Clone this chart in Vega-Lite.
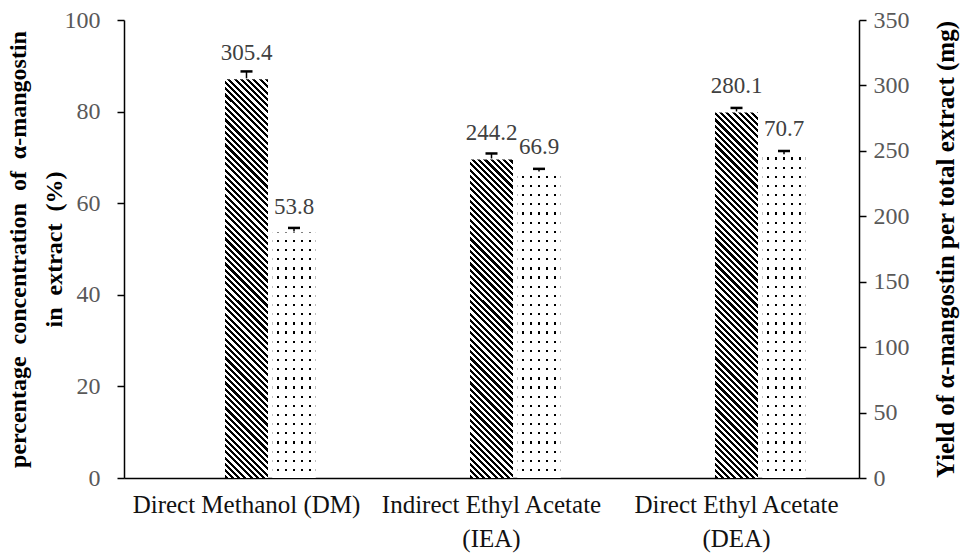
{
"$schema": "https://vega.github.io/schema/vega-lite/v6.json",
"width": 735, "height": 458,
"autosize": "none",
"padding": {"left": 124, "top": 20, "right": 109, "bottom": 76},
"background": "white",
"config": {"view": {"stroke": null}, "font": "Liberation Serif"},
"data": {"values": [
 {"method": "Direct Methanol (DM)", "series": "yield", "value": 305.4, "upper": 310.7},
 {"method": "Direct Methanol (DM)", "series": "pct", "value": 53.8, "upper": 54.6},
 {"method": "Indirect Ethyl Acetate (IEA)", "series": "yield", "value": 244.2, "upper": 248},
 {"method": "Indirect Ethyl Acetate (IEA)", "series": "pct", "value": 66.9, "upper": 67.5},
 {"method": "Direct Ethyl Acetate (DEA)", "series": "yield", "value": 280.1, "upper": 282.8},
 {"method": "Direct Ethyl Acetate (DEA)", "series": "pct", "value": 70.7, "upper": 71.4}
]},
"encoding": {
 "x": {"field": "method", "type": "nominal", "sort": ["Direct Methanol (DM)", "Indirect Ethyl Acetate (IEA)", "Direct Ethyl Acetate (DEA)"],
  "scale": {"paddingInner": 0, "paddingOuter": 0},
  "axis": {"title": null, "domain": true, "domainColor": "#000", "domainWidth": 1.5, "ticks": false, "tickSize": 0, "labelAngle": 0, "labelFont": "Liberation Serif", "labelFontSize": 25, "labelColor": "#111", "labelPadding": 14, "labelLineHeight": 34, "labelBaseline": "top", "labelLimit": 400, "labelOverlap": false,
   "labelExpr": "datum.value == 'Indirect Ethyl Acetate (IEA)' ? ['Indirect Ethyl Acetate', '(IEA)'] : datum.value == 'Direct Ethyl Acetate (DEA)' ? ['Direct Ethyl Acetate', '(DEA)'] : datum.value"}}
},
"layer": [
 {
  "transform": [{"filter": "datum.series == 'pct'"}],
  "encoding": {"xOffset": {"field": "series", "scale": {"domain": ["a", "b", "yield", "pct", "c"], "paddingInner": 0.0947, "paddingOuter": 0.126}}},
  "layer": [
   {"mark": {"type": "bar", "fill": {"gradient": "linear", "x1": 0, "y1": 0, "x2": 0, "y2": 1, "stops": [
{"offset":0,"color":"#000"},{"offset":0.005,"color":"#000"},{"offset":0.005,"color":"#fff"},{"offset":0.02,"color":"#fff"},{"offset":0.02,"color":"#000"},{"offset":0.025,"color":"#000"},{"offset":0.025,"color":"#fff"},{"offset":0.04,"color":"#fff"},{"offset":0.04,"color":"#000"},{"offset":0.045,"color":"#000"},{"offset":0.045,"color":"#fff"},{"offset":0.06,"color":"#fff"},{"offset":0.06,"color":"#000"},{"offset":0.065,"color":"#000"},{"offset":0.065,"color":"#fff"},{"offset":0.08,"color":"#fff"},{"offset":0.08,"color":"#000"},{"offset":0.085,"color":"#000"},{"offset":0.085,"color":"#fff"},{"offset":0.1,"color":"#fff"},
{"offset":0.1,"color":"#000"},{"offset":0.105,"color":"#000"},{"offset":0.105,"color":"#fff"},{"offset":0.12,"color":"#fff"},{"offset":0.12,"color":"#000"},{"offset":0.125,"color":"#000"},{"offset":0.125,"color":"#fff"},{"offset":0.14,"color":"#fff"},{"offset":0.14,"color":"#000"},{"offset":0.145,"color":"#000"},{"offset":0.145,"color":"#fff"},{"offset":0.16,"color":"#fff"},{"offset":0.16,"color":"#000"},{"offset":0.165,"color":"#000"},{"offset":0.165,"color":"#fff"},{"offset":0.18,"color":"#fff"},{"offset":0.18,"color":"#000"},{"offset":0.185,"color":"#000"},{"offset":0.185,"color":"#fff"},{"offset":0.2,"color":"#fff"},
{"offset":0.2,"color":"#000"},{"offset":0.205,"color":"#000"},{"offset":0.205,"color":"#fff"},{"offset":0.22,"color":"#fff"},{"offset":0.22,"color":"#000"},{"offset":0.225,"color":"#000"},{"offset":0.225,"color":"#fff"},{"offset":0.24,"color":"#fff"},{"offset":0.24,"color":"#000"},{"offset":0.245,"color":"#000"},{"offset":0.245,"color":"#fff"},{"offset":0.26,"color":"#fff"},{"offset":0.26,"color":"#000"},{"offset":0.265,"color":"#000"},{"offset":0.265,"color":"#fff"},{"offset":0.28,"color":"#fff"},{"offset":0.28,"color":"#000"},{"offset":0.285,"color":"#000"},{"offset":0.285,"color":"#fff"},{"offset":0.3,"color":"#fff"},
{"offset":0.3,"color":"#000"},{"offset":0.305,"color":"#000"},{"offset":0.305,"color":"#fff"},{"offset":0.32,"color":"#fff"},{"offset":0.32,"color":"#000"},{"offset":0.325,"color":"#000"},{"offset":0.325,"color":"#fff"},{"offset":0.34,"color":"#fff"},{"offset":0.34,"color":"#000"},{"offset":0.345,"color":"#000"},{"offset":0.345,"color":"#fff"},{"offset":0.36,"color":"#fff"},{"offset":0.36,"color":"#000"},{"offset":0.365,"color":"#000"},{"offset":0.365,"color":"#fff"},{"offset":0.38,"color":"#fff"},{"offset":0.38,"color":"#000"},{"offset":0.385,"color":"#000"},{"offset":0.385,"color":"#fff"},{"offset":0.4,"color":"#fff"},
{"offset":0.4,"color":"#000"},{"offset":0.405,"color":"#000"},{"offset":0.405,"color":"#fff"},{"offset":0.42,"color":"#fff"},{"offset":0.42,"color":"#000"},{"offset":0.425,"color":"#000"},{"offset":0.425,"color":"#fff"},{"offset":0.44,"color":"#fff"},{"offset":0.44,"color":"#000"},{"offset":0.445,"color":"#000"},{"offset":0.445,"color":"#fff"},{"offset":0.46,"color":"#fff"},{"offset":0.46,"color":"#000"},{"offset":0.465,"color":"#000"},{"offset":0.465,"color":"#fff"},{"offset":0.48,"color":"#fff"},{"offset":0.48,"color":"#000"},{"offset":0.485,"color":"#000"},{"offset":0.485,"color":"#fff"},{"offset":0.5,"color":"#fff"},
{"offset":0.5,"color":"#000"},{"offset":0.505,"color":"#000"},{"offset":0.505,"color":"#fff"},{"offset":0.52,"color":"#fff"},{"offset":0.52,"color":"#000"},{"offset":0.525,"color":"#000"},{"offset":0.525,"color":"#fff"},{"offset":0.54,"color":"#fff"},{"offset":0.54,"color":"#000"},{"offset":0.545,"color":"#000"},{"offset":0.545,"color":"#fff"},{"offset":0.56,"color":"#fff"},{"offset":0.56,"color":"#000"},{"offset":0.565,"color":"#000"},{"offset":0.565,"color":"#fff"},{"offset":0.58,"color":"#fff"},{"offset":0.58,"color":"#000"},{"offset":0.585,"color":"#000"},{"offset":0.585,"color":"#fff"},{"offset":0.6,"color":"#fff"},
{"offset":0.6,"color":"#000"},{"offset":0.605,"color":"#000"},{"offset":0.605,"color":"#fff"},{"offset":0.62,"color":"#fff"},{"offset":0.62,"color":"#000"},{"offset":0.625,"color":"#000"},{"offset":0.625,"color":"#fff"},{"offset":0.64,"color":"#fff"},{"offset":0.64,"color":"#000"},{"offset":0.645,"color":"#000"},{"offset":0.645,"color":"#fff"},{"offset":0.66,"color":"#fff"},{"offset":0.66,"color":"#000"},{"offset":0.665,"color":"#000"},{"offset":0.665,"color":"#fff"},{"offset":0.68,"color":"#fff"},{"offset":0.68,"color":"#000"},{"offset":0.685,"color":"#000"},{"offset":0.685,"color":"#fff"},{"offset":0.7,"color":"#fff"},
{"offset":0.7,"color":"#000"},{"offset":0.705,"color":"#000"},{"offset":0.705,"color":"#fff"},{"offset":0.72,"color":"#fff"},{"offset":0.72,"color":"#000"},{"offset":0.725,"color":"#000"},{"offset":0.725,"color":"#fff"},{"offset":0.74,"color":"#fff"},{"offset":0.74,"color":"#000"},{"offset":0.745,"color":"#000"},{"offset":0.745,"color":"#fff"},{"offset":0.76,"color":"#fff"},{"offset":0.76,"color":"#000"},{"offset":0.765,"color":"#000"},{"offset":0.765,"color":"#fff"},{"offset":0.78,"color":"#fff"},{"offset":0.78,"color":"#000"},{"offset":0.785,"color":"#000"},{"offset":0.785,"color":"#fff"},{"offset":0.8,"color":"#fff"},
{"offset":0.8,"color":"#000"},{"offset":0.805,"color":"#000"},{"offset":0.805,"color":"#fff"},{"offset":0.82,"color":"#fff"},{"offset":0.82,"color":"#000"},{"offset":0.825,"color":"#000"},{"offset":0.825,"color":"#fff"},{"offset":0.84,"color":"#fff"},{"offset":0.84,"color":"#000"},{"offset":0.845,"color":"#000"},{"offset":0.845,"color":"#fff"},{"offset":0.86,"color":"#fff"},{"offset":0.86,"color":"#000"},{"offset":0.865,"color":"#000"},{"offset":0.865,"color":"#fff"},{"offset":0.88,"color":"#fff"},{"offset":0.88,"color":"#000"},{"offset":0.885,"color":"#000"},{"offset":0.885,"color":"#fff"},{"offset":0.9,"color":"#fff"},
{"offset":0.9,"color":"#000"},{"offset":0.905,"color":"#000"},{"offset":0.905,"color":"#fff"},{"offset":0.92,"color":"#fff"},{"offset":0.92,"color":"#000"},{"offset":0.925,"color":"#000"},{"offset":0.925,"color":"#fff"},{"offset":0.94,"color":"#fff"},{"offset":0.94,"color":"#000"},{"offset":0.945,"color":"#000"},{"offset":0.945,"color":"#fff"},{"offset":0.96,"color":"#fff"},{"offset":0.96,"color":"#000"},{"offset":0.965,"color":"#000"},{"offset":0.965,"color":"#fff"},{"offset":0.98,"color":"#fff"},{"offset":0.98,"color":"#000"},{"offset":0.985,"color":"#000"},{"offset":0.985,"color":"#fff"},{"offset":1,"color":"#fff"}
   ]}},
    "encoding": {"y": {"datum": 100, "type": "quantitative", "scale": {"domain": [0, 100]}}, "y2": {"datum": 0}}},
   {"mark": {"type": "bar", "fill": {"gradient": "linear", "x1": 0, "y1": 0, "x2": 1, "y2": 0, "stops": [
{"offset":0,"color":"#fff"},{"offset":0.093,"color":"#fff"},{"offset":0.093,"color":"rgba(255,255,255,0)"},{"offset":0.1395,"color":"rgba(255,255,255,0)"},{"offset":0.1395,"color":"#fff"},{"offset":0.2791,"color":"#fff"},{"offset":0.2791,"color":"rgba(255,255,255,0)"},{"offset":0.3256,"color":"rgba(255,255,255,0)"},{"offset":0.3256,"color":"#fff"},{"offset":0.4651,"color":"#fff"},{"offset":0.4651,"color":"rgba(255,255,255,0)"},{"offset":0.5116,"color":"rgba(255,255,255,0)"},{"offset":0.5116,"color":"#fff"},{"offset":0.6512,"color":"#fff"},{"offset":0.6512,"color":"rgba(255,255,255,0)"},{"offset":0.6977,"color":"rgba(255,255,255,0)"},{"offset":0.6977,"color":"#fff"},{"offset":0.8372,"color":"#fff"},{"offset":0.8372,"color":"rgba(255,255,255,0)"},{"offset":0.8837,"color":"rgba(255,255,255,0)"},{"offset":0.8837,"color":"#fff"},{"offset":1,"color":"#fff"}
   ]}},
    "encoding": {"y": {"datum": 100, "type": "quantitative", "scale": {"domain": [0, 100]}}, "y2": {"datum": 0}}},
   {"mark": {"type": "bar", "fill": "#fff", "stroke": "#fff", "strokeWidth": 2},
    "encoding": {"y": {"field": "value", "type": "quantitative", "scale": {"domain": [0, 100]},
      "axis": {"orient": "left", "values": [0, 20, 40, 60, 80, 100], "grid": false, "domain": true, "domainColor": "#000", "domainWidth": 1.5, "ticks": true, "tickColor": "#000", "tickWidth": 1.5, "tickSize": 7, "labelPadding": 17, "labelFont": "Liberation Serif", "labelFontSize": 24, "labelColor": "#595959",
       "title": ["percentage\u00a0 concentration\u00a0 of\u00a0 α-mangostin", "in\u00a0 extract\u00a0 (%)"], "titleFont": "Liberation Serif", "titleFontSize": 24, "titleFontWeight": "bold", "titleColor": "#000", "titleAngle": -90, "titleX": -106, "titleY": 229, "titleAlign": "center", "titleBaseline": "middle", "titleLineHeight": 36}},
     "y2": {"datum": 100}}},
   {"mark": {"type": "rule", "color": "#000", "strokeWidth": 1.5},
    "encoding": {"y": {"field": "value", "type": "quantitative", "scale": {"domain": [0, 100]}}, "y2": {"field": "upper"}}},
   {"mark": {"type": "tick", "color": "#000", "size": 12, "thickness": 2.5, "opacity": 1},
    "encoding": {"y": {"field": "upper", "type": "quantitative", "scale": {"domain": [0, 100]}}}},
   {"mark": {"type": "text", "dy": -25, "fontSize": 23, "font": "Liberation Serif", "color": "#404040", "baseline": "middle", "align": "center"},
    "encoding": {"y": {"field": "value", "type": "quantitative", "scale": {"domain": [0, 100]}}, "text": {"field": "value", "type": "quantitative", "format": ".1f"}}}
  ]
 },
 {
  "transform": [{"filter": "datum.series == 'yield'"}],
  "encoding": {"xOffset": {"field": "series", "scale": {"domain": ["a", "b", "yield", "pct", "c"], "paddingInner": 0.0947, "paddingOuter": 0.126}}},
  "layer": [
   {"mark": {"type": "bar", "fill": {"gradient": "linear", "x1": 0, "y1": 1, "x2": 0.1018, "y2": -0.0843, "stops": [
{"offset":0,"color":"#000"},{"offset":0.00625,"color":"#000"},{"offset":0.00625,"color":"#fff"},{"offset":0.0125,"color":"#fff"},{"offset":0.0125,"color":"#000"},{"offset":0.01875,"color":"#000"},{"offset":0.01875,"color":"#fff"},{"offset":0.025,"color":"#fff"},{"offset":0.025,"color":"#000"},{"offset":0.03125,"color":"#000"},{"offset":0.03125,"color":"#fff"},{"offset":0.0375,"color":"#fff"},{"offset":0.0375,"color":"#000"},{"offset":0.04375,"color":"#000"},{"offset":0.04375,"color":"#fff"},{"offset":0.05,"color":"#fff"},{"offset":0.05,"color":"#000"},{"offset":0.05625,"color":"#000"},{"offset":0.05625,"color":"#fff"},{"offset":0.0625,"color":"#fff"},{"offset":0.0625,"color":"#000"},{"offset":0.06875,"color":"#000"},{"offset":0.06875,"color":"#fff"},{"offset":0.075,"color":"#fff"},{"offset":0.075,"color":"#000"},{"offset":0.08125,"color":"#000"},{"offset":0.08125,"color":"#fff"},{"offset":0.0875,"color":"#fff"},{"offset":0.0875,"color":"#000"},{"offset":0.09375,"color":"#000"},{"offset":0.09375,"color":"#fff"},{"offset":0.1,"color":"#fff"},
{"offset":0.1,"color":"#000"},{"offset":0.10625,"color":"#000"},{"offset":0.10625,"color":"#fff"},{"offset":0.1125,"color":"#fff"},{"offset":0.1125,"color":"#000"},{"offset":0.11875,"color":"#000"},{"offset":0.11875,"color":"#fff"},{"offset":0.125,"color":"#fff"},{"offset":0.125,"color":"#000"},{"offset":0.13125,"color":"#000"},{"offset":0.13125,"color":"#fff"},{"offset":0.1375,"color":"#fff"},{"offset":0.1375,"color":"#000"},{"offset":0.14375,"color":"#000"},{"offset":0.14375,"color":"#fff"},{"offset":0.15,"color":"#fff"},{"offset":0.15,"color":"#000"},{"offset":0.15625,"color":"#000"},{"offset":0.15625,"color":"#fff"},{"offset":0.1625,"color":"#fff"},{"offset":0.1625,"color":"#000"},{"offset":0.16875,"color":"#000"},{"offset":0.16875,"color":"#fff"},{"offset":0.175,"color":"#fff"},{"offset":0.175,"color":"#000"},{"offset":0.18125,"color":"#000"},{"offset":0.18125,"color":"#fff"},{"offset":0.1875,"color":"#fff"},{"offset":0.1875,"color":"#000"},{"offset":0.19375,"color":"#000"},{"offset":0.19375,"color":"#fff"},{"offset":0.2,"color":"#fff"},
{"offset":0.2,"color":"#000"},{"offset":0.20625,"color":"#000"},{"offset":0.20625,"color":"#fff"},{"offset":0.2125,"color":"#fff"},{"offset":0.2125,"color":"#000"},{"offset":0.21875,"color":"#000"},{"offset":0.21875,"color":"#fff"},{"offset":0.225,"color":"#fff"},{"offset":0.225,"color":"#000"},{"offset":0.23125,"color":"#000"},{"offset":0.23125,"color":"#fff"},{"offset":0.2375,"color":"#fff"},{"offset":0.2375,"color":"#000"},{"offset":0.24375,"color":"#000"},{"offset":0.24375,"color":"#fff"},{"offset":0.25,"color":"#fff"},{"offset":0.25,"color":"#000"},{"offset":0.25625,"color":"#000"},{"offset":0.25625,"color":"#fff"},{"offset":0.2625,"color":"#fff"},{"offset":0.2625,"color":"#000"},{"offset":0.26875,"color":"#000"},{"offset":0.26875,"color":"#fff"},{"offset":0.275,"color":"#fff"},{"offset":0.275,"color":"#000"},{"offset":0.28125,"color":"#000"},{"offset":0.28125,"color":"#fff"},{"offset":0.2875,"color":"#fff"},{"offset":0.2875,"color":"#000"},{"offset":0.29375,"color":"#000"},{"offset":0.29375,"color":"#fff"},{"offset":0.3,"color":"#fff"},
{"offset":0.3,"color":"#000"},{"offset":0.30625,"color":"#000"},{"offset":0.30625,"color":"#fff"},{"offset":0.3125,"color":"#fff"},{"offset":0.3125,"color":"#000"},{"offset":0.31875,"color":"#000"},{"offset":0.31875,"color":"#fff"},{"offset":0.325,"color":"#fff"},{"offset":0.325,"color":"#000"},{"offset":0.33125,"color":"#000"},{"offset":0.33125,"color":"#fff"},{"offset":0.3375,"color":"#fff"},{"offset":0.3375,"color":"#000"},{"offset":0.34375,"color":"#000"},{"offset":0.34375,"color":"#fff"},{"offset":0.35,"color":"#fff"},{"offset":0.35,"color":"#000"},{"offset":0.35625,"color":"#000"},{"offset":0.35625,"color":"#fff"},{"offset":0.3625,"color":"#fff"},{"offset":0.3625,"color":"#000"},{"offset":0.36875,"color":"#000"},{"offset":0.36875,"color":"#fff"},{"offset":0.375,"color":"#fff"},{"offset":0.375,"color":"#000"},{"offset":0.38125,"color":"#000"},{"offset":0.38125,"color":"#fff"},{"offset":0.3875,"color":"#fff"},{"offset":0.3875,"color":"#000"},{"offset":0.39375,"color":"#000"},{"offset":0.39375,"color":"#fff"},{"offset":0.4,"color":"#fff"},
{"offset":0.4,"color":"#000"},{"offset":0.40625,"color":"#000"},{"offset":0.40625,"color":"#fff"},{"offset":0.4125,"color":"#fff"},{"offset":0.4125,"color":"#000"},{"offset":0.41875,"color":"#000"},{"offset":0.41875,"color":"#fff"},{"offset":0.425,"color":"#fff"},{"offset":0.425,"color":"#000"},{"offset":0.43125,"color":"#000"},{"offset":0.43125,"color":"#fff"},{"offset":0.4375,"color":"#fff"},{"offset":0.4375,"color":"#000"},{"offset":0.44375,"color":"#000"},{"offset":0.44375,"color":"#fff"},{"offset":0.45,"color":"#fff"},{"offset":0.45,"color":"#000"},{"offset":0.45625,"color":"#000"},{"offset":0.45625,"color":"#fff"},{"offset":0.4625,"color":"#fff"},{"offset":0.4625,"color":"#000"},{"offset":0.46875,"color":"#000"},{"offset":0.46875,"color":"#fff"},{"offset":0.475,"color":"#fff"},{"offset":0.475,"color":"#000"},{"offset":0.48125,"color":"#000"},{"offset":0.48125,"color":"#fff"},{"offset":0.4875,"color":"#fff"},{"offset":0.4875,"color":"#000"},{"offset":0.49375,"color":"#000"},{"offset":0.49375,"color":"#fff"},{"offset":0.5,"color":"#fff"},
{"offset":0.5,"color":"#000"},{"offset":0.50625,"color":"#000"},{"offset":0.50625,"color":"#fff"},{"offset":0.5125,"color":"#fff"},{"offset":0.5125,"color":"#000"},{"offset":0.51875,"color":"#000"},{"offset":0.51875,"color":"#fff"},{"offset":0.525,"color":"#fff"},{"offset":0.525,"color":"#000"},{"offset":0.53125,"color":"#000"},{"offset":0.53125,"color":"#fff"},{"offset":0.5375,"color":"#fff"},{"offset":0.5375,"color":"#000"},{"offset":0.54375,"color":"#000"},{"offset":0.54375,"color":"#fff"},{"offset":0.55,"color":"#fff"},{"offset":0.55,"color":"#000"},{"offset":0.55625,"color":"#000"},{"offset":0.55625,"color":"#fff"},{"offset":0.5625,"color":"#fff"},{"offset":0.5625,"color":"#000"},{"offset":0.56875,"color":"#000"},{"offset":0.56875,"color":"#fff"},{"offset":0.575,"color":"#fff"},{"offset":0.575,"color":"#000"},{"offset":0.58125,"color":"#000"},{"offset":0.58125,"color":"#fff"},{"offset":0.5875,"color":"#fff"},{"offset":0.5875,"color":"#000"},{"offset":0.59375,"color":"#000"},{"offset":0.59375,"color":"#fff"},{"offset":0.6,"color":"#fff"},
{"offset":0.6,"color":"#000"},{"offset":0.60625,"color":"#000"},{"offset":0.60625,"color":"#fff"},{"offset":0.6125,"color":"#fff"},{"offset":0.6125,"color":"#000"},{"offset":0.61875,"color":"#000"},{"offset":0.61875,"color":"#fff"},{"offset":0.625,"color":"#fff"},{"offset":0.625,"color":"#000"},{"offset":0.63125,"color":"#000"},{"offset":0.63125,"color":"#fff"},{"offset":0.6375,"color":"#fff"},{"offset":0.6375,"color":"#000"},{"offset":0.64375,"color":"#000"},{"offset":0.64375,"color":"#fff"},{"offset":0.65,"color":"#fff"},{"offset":0.65,"color":"#000"},{"offset":0.65625,"color":"#000"},{"offset":0.65625,"color":"#fff"},{"offset":0.6625,"color":"#fff"},{"offset":0.6625,"color":"#000"},{"offset":0.66875,"color":"#000"},{"offset":0.66875,"color":"#fff"},{"offset":0.675,"color":"#fff"},{"offset":0.675,"color":"#000"},{"offset":0.68125,"color":"#000"},{"offset":0.68125,"color":"#fff"},{"offset":0.6875,"color":"#fff"},{"offset":0.6875,"color":"#000"},{"offset":0.69375,"color":"#000"},{"offset":0.69375,"color":"#fff"},{"offset":0.7,"color":"#fff"},
{"offset":0.7,"color":"#000"},{"offset":0.70625,"color":"#000"},{"offset":0.70625,"color":"#fff"},{"offset":0.7125,"color":"#fff"},{"offset":0.7125,"color":"#000"},{"offset":0.71875,"color":"#000"},{"offset":0.71875,"color":"#fff"},{"offset":0.725,"color":"#fff"},{"offset":0.725,"color":"#000"},{"offset":0.73125,"color":"#000"},{"offset":0.73125,"color":"#fff"},{"offset":0.7375,"color":"#fff"},{"offset":0.7375,"color":"#000"},{"offset":0.74375,"color":"#000"},{"offset":0.74375,"color":"#fff"},{"offset":0.75,"color":"#fff"},{"offset":0.75,"color":"#000"},{"offset":0.75625,"color":"#000"},{"offset":0.75625,"color":"#fff"},{"offset":0.7625,"color":"#fff"},{"offset":0.7625,"color":"#000"},{"offset":0.76875,"color":"#000"},{"offset":0.76875,"color":"#fff"},{"offset":0.775,"color":"#fff"},{"offset":0.775,"color":"#000"},{"offset":0.78125,"color":"#000"},{"offset":0.78125,"color":"#fff"},{"offset":0.7875,"color":"#fff"},{"offset":0.7875,"color":"#000"},{"offset":0.79375,"color":"#000"},{"offset":0.79375,"color":"#fff"},{"offset":0.8,"color":"#fff"},
{"offset":0.8,"color":"#000"},{"offset":0.80625,"color":"#000"},{"offset":0.80625,"color":"#fff"},{"offset":0.8125,"color":"#fff"},{"offset":0.8125,"color":"#000"},{"offset":0.81875,"color":"#000"},{"offset":0.81875,"color":"#fff"},{"offset":0.825,"color":"#fff"},{"offset":0.825,"color":"#000"},{"offset":0.83125,"color":"#000"},{"offset":0.83125,"color":"#fff"},{"offset":0.8375,"color":"#fff"},{"offset":0.8375,"color":"#000"},{"offset":0.84375,"color":"#000"},{"offset":0.84375,"color":"#fff"},{"offset":0.85,"color":"#fff"},{"offset":0.85,"color":"#000"},{"offset":0.85625,"color":"#000"},{"offset":0.85625,"color":"#fff"},{"offset":0.8625,"color":"#fff"},{"offset":0.8625,"color":"#000"},{"offset":0.86875,"color":"#000"},{"offset":0.86875,"color":"#fff"},{"offset":0.875,"color":"#fff"},{"offset":0.875,"color":"#000"},{"offset":0.88125,"color":"#000"},{"offset":0.88125,"color":"#fff"},{"offset":0.8875,"color":"#fff"},{"offset":0.8875,"color":"#000"},{"offset":0.89375,"color":"#000"},{"offset":0.89375,"color":"#fff"},{"offset":0.9,"color":"#fff"},
{"offset":0.9,"color":"#000"},{"offset":0.90625,"color":"#000"},{"offset":0.90625,"color":"#fff"},{"offset":0.9125,"color":"#fff"},{"offset":0.9125,"color":"#000"},{"offset":0.91875,"color":"#000"},{"offset":0.91875,"color":"#fff"},{"offset":0.925,"color":"#fff"},{"offset":0.925,"color":"#000"},{"offset":0.93125,"color":"#000"},{"offset":0.93125,"color":"#fff"},{"offset":0.9375,"color":"#fff"},{"offset":0.9375,"color":"#000"},{"offset":0.94375,"color":"#000"},{"offset":0.94375,"color":"#fff"},{"offset":0.95,"color":"#fff"},{"offset":0.95,"color":"#000"},{"offset":0.95625,"color":"#000"},{"offset":0.95625,"color":"#fff"},{"offset":0.9625,"color":"#fff"},{"offset":0.9625,"color":"#000"},{"offset":0.96875,"color":"#000"},{"offset":0.96875,"color":"#fff"},{"offset":0.975,"color":"#fff"},{"offset":0.975,"color":"#000"},{"offset":0.98125,"color":"#000"},{"offset":0.98125,"color":"#fff"},{"offset":0.9875,"color":"#fff"},{"offset":0.9875,"color":"#000"},{"offset":0.99375,"color":"#000"},{"offset":0.99375,"color":"#fff"},{"offset":1,"color":"#fff"}
   ]}},
    "encoding": {"y": {"datum": 350, "type": "quantitative", "scale": {"domain": [0, 350]}}, "y2": {"datum": 0}}},
   {"mark": {"type": "bar", "fill": "#fff", "stroke": "#fff", "strokeWidth": 2},
    "encoding": {"y": {"field": "value", "type": "quantitative", "scale": {"domain": [0, 350]},
      "axis": {"orient": "right", "values": [0, 50, 100, 150, 200, 250, 300, 350], "grid": false, "domain": true, "domainColor": "#000", "domainWidth": 1.5, "ticks": true, "tickColor": "#000", "tickWidth": 1.5, "tickSize": 7, "labelPadding": 7, "labelFont": "Liberation Serif", "labelFontSize": 24, "labelColor": "#595959",
       "title": "Yield of α-mangostin per total extract (mg)", "titleFont": "Liberation Serif", "titleFontSize": 25, "titleFontWeight": "bold", "titleColor": "#000", "titleAngle": -90, "titleX": 86, "titleY": 229, "titleAlign": "center", "titleBaseline": "middle"}},
     "y2": {"datum": 350}}},
   {"mark": {"type": "rule", "color": "#000", "strokeWidth": 1.5},
    "encoding": {"y": {"field": "value", "type": "quantitative", "scale": {"domain": [0, 350]}}, "y2": {"field": "upper"}}},
   {"mark": {"type": "tick", "color": "#000", "size": 12, "thickness": 2.5, "opacity": 1},
    "encoding": {"y": {"field": "upper", "type": "quantitative", "scale": {"domain": [0, 350]}}}},
   {"mark": {"type": "text", "dy": -25, "fontSize": 23, "font": "Liberation Serif", "color": "#404040", "baseline": "middle", "align": "center"},
    "encoding": {"y": {"field": "value", "type": "quantitative", "scale": {"domain": [0, 350]}}, "text": {"field": "value", "type": "quantitative", "format": ".1f"}}}
  ]
 }
],
"resolve": {"scale": {"y": "independent"}, "axis": {"y": "independent"}}
}
